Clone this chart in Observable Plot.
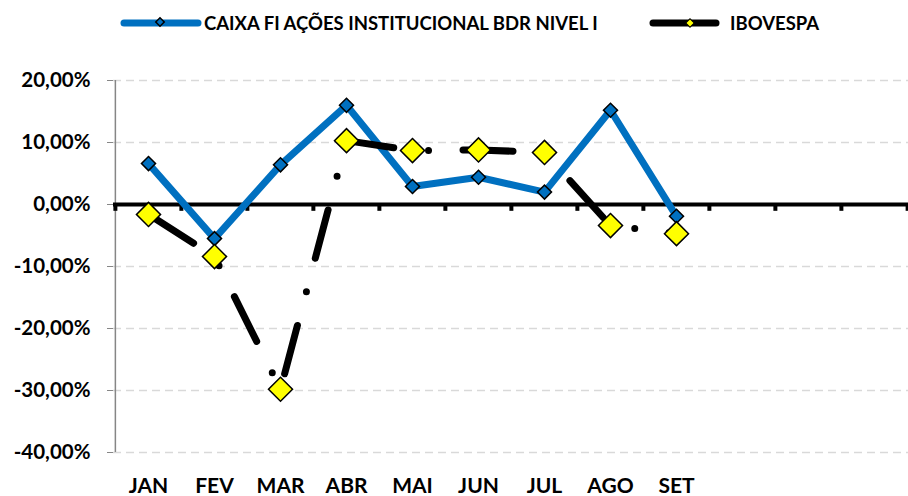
<!DOCTYPE html>
<html>
<head>
<meta charset="utf-8">
<script src="https://cdn.jsdelivr.net/npm/d3@7"></script>
<script src="https://cdn.jsdelivr.net/npm/@observablehq/plot@0.6"></script>
<style>
  html, body { margin: 0; padding: 0; background: #fff; }
  #wrap { position: relative; width: 908px; height: 496px; font-family: Lato, "Open Sans", sans-serif; }
  .leg { position: absolute; top: 8px; height: 30px; display: flex; align-items: center; font-weight: bold; font-size: 18.5px; color: #000; white-space: nowrap; }
</style>
</head>
<body>
<div id="wrap">
  <div class="leg" style="left:118px">
    <svg width="86" height="30"><line x1="6" y1="15" x2="80" y2="15" stroke="#0070C0" stroke-width="7" stroke-linecap="round"/><rect x="39" y="11" width="6" height="6" fill="#0070C0" stroke="#000" stroke-width="1.5" transform="rotate(45 42 14)"/></svg>
    <span>CAIXA FI AÇÕES INSTITUCIONAL BDR NIVEL I</span>
  </div>
  <div class="leg" style="left:647px">
    <svg width="83" height="30"><line x1="6" y1="15" x2="69" y2="15" stroke="#000" stroke-width="7" stroke-linecap="round"/><rect x="40" y="12" width="6" height="6" fill="#FFFF00" stroke="#000" stroke-width="1" transform="rotate(45 43 15)"/></svg>
    <span>IBOVESPA</span>
  </div>
</div>
<script>
const months = ["JAN","FEV","MAR","ABR","MAI","JUN","JUL","AGO","SET","OUT","NOV","DEZ"];
const shownMonths = ["JAN","FEV","MAR","ABR","MAI","JUN","JUL","AGO","SET"];
const fundName = "CAIXA FI AÇÕES INSTITUCIONAL BDR NIVEL I";
const fundValues = [6.6, -5.5, 6.4, 16.0, 2.9, 4.4, 2.0, 15.2, -1.9];
const iboName = "IBOVESPA";
const iboValues = [-1.6, -8.4, -29.8, 10.3, 8.7, 8.8, 8.4, -3.4, -4.7];
const yTicks = [-40, -30, -20, -10, 0, 10, 20];

const fund = shownMonths.map((m, i) => ({month: m, value: fundValues[i]}));
const ibo = shownMonths.map((m, i) => ({month: m, value: iboValues[i]}));

const W = 908, H = 496, ML = 113, MR = 0, MT = 80, MB = 44;
const step = (W - ML - MR) / months.length;
const fmt = d => d.toFixed(2).replace(".", ",") + "%";

const chart = Plot.plot({
  width: W, height: H,
  marginLeft: ML, marginRight: MR, marginTop: MT, marginBottom: MB,
  style: {fontFamily: "Lato, 'Open Sans', sans-serif", fontWeight: "bold", color: "#000", background: "transparent", overflow: "visible"},
  x: {type: "point", domain: months, padding: 0.5, label: null},
  y: {domain: [-40, 20], label: null},
  marks: [
    Plot.gridY(yTicks.filter(d => d !== 0), {stroke: "#D9D9D9", strokeOpacity: 1, strokeWidth: 1.5, strokeDasharray: "8,5"}),
    Plot.ruleX([months[0]], {x: d => d, y1: 20, y2: -40, dx: -step / 2, stroke: "#868686", strokeWidth: 1.5}),
    Plot.axisY({ticks: yTicks, tickFormat: fmt, tickSize: 6, tickPadding: 17, stroke: "#868686", fill: "#000", fontSize: 20.5, fontWeight: "bold", label: null}),
    Plot.axisX({tickFormat: d => shownMonths.includes(d) ? d : "", tickSize: 0, tickPadding: 26, fontSize: 21, fontWeight: "bold", fill: "#000", label: null}),
    Plot.ruleY([0], {stroke: "#000", strokeWidth: 4}),
    Plot.ruleX(months, {x: d => d, y1: 0, y2: -1.1, dx: -step / 2, stroke: "#000", strokeWidth: 4}),
    Plot.ruleX([months[months.length - 1]], {x: d => d, y1: 0, y2: -1.1, dx: step / 2, stroke: "#000", strokeWidth: 4}),
    Plot.line(fund, {x: "month", y: "value", stroke: "#0070C0", strokeWidth: 7, strokeLinejoin: "round"}),
    Plot.dot(fund, {x: "month", y: "value", symbol: "square", rotate: 45, r: 5.6, fill: "#0070C0", stroke: "#000", strokeWidth: 1.5}),
    Plot.line(ibo, {x: "month", y: "value", stroke: "#000", strokeWidth: 7, strokeLinecap: "round", strokeLinejoin: "round", strokeDasharray: "50,35,0,34.5", strokeDashoffset: -3.5}),
    Plot.dot(ibo, {x: "month", y: "value", symbol: "square", rotate: 45, r: 9.6, fill: "#FFFF00", stroke: "#000", strokeWidth: 1.5})
  ]
});
chart.style.position = "absolute";
chart.style.left = "0px";
chart.style.top = "0px";
const wrap = document.getElementById("wrap");
wrap.insertBefore(chart, wrap.firstChild);
</script>
</body>
</html>
